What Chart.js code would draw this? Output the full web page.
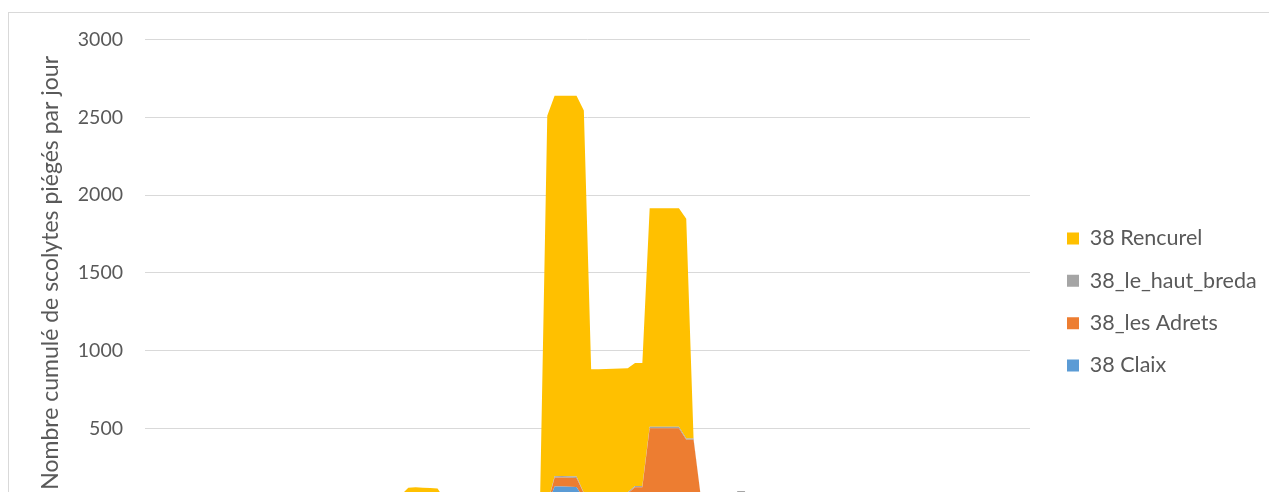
<!DOCTYPE html>
<html>
<head>
<meta charset="utf-8">
<script src="https://cdn.jsdelivr.net/npm/chart.js@4/dist/chart.umd.min.js"></script>
<style>
html,body{margin:0;padding:0;overflow:hidden;background:#fff;width:1269px;height:492px}
#frame{position:absolute;left:8px;top:12px;width:1280px;height:620px;border:1px solid #d9d9d9;box-sizing:border-box}
#wrap{position:absolute;left:8px;top:6px;width:1264px;height:570px}
canvas{display:block}
</style>
</head>
<body>
<div id="frame"></div>
<div id="wrap"><canvas id="c" width="1264" height="570"></canvas></div>
<script>
// Categories: daily dates (axis labels lie below the visible area)
const categories = [
 '01/04','02/04','03/04','04/04','05/04','06/04','07/04','08/04','09/04','10/04',
 '11/04','12/04','13/04','14/04','15/04','16/04','17/04','18/04','19/04','20/04',
 '21/04','22/04','23/04','24/04','25/04','26/04','27/04','28/04','29/04','30/04',
 '01/05','02/05','03/05','04/05','05/05','06/05','07/05','08/05','09/05','10/05',
 '11/05','12/05','13/05','14/05','15/05','16/05','17/05','18/05','19/05','20/05',
 '21/05','22/05','23/05','24/05','25/05','26/05','27/05','28/05','29/05','30/05',
 '31/05','01/06','02/06','03/06','04/06','05/06','06/06','07/06','08/06','09/06',
 '10/06','11/06','12/06','13/06','14/06','15/06','16/06','17/06','18/06','19/06',
 '20/06','21/06','22/06','23/06','24/06','25/06','26/06','27/06','28/06','29/06',
 '30/06','01/07','02/07','03/07','04/07','05/07','06/07','07/07','08/07','09/07',
 '10/07','11/07','12/07','13/07','14/07','15/07','16/07','17/07','18/07','19/07',
 '20/07','21/07','22/07','23/07','24/07','25/07','26/07','27/07','28/07','29/07',
 '30/07','31/07'
];

const claix = [
 0,0,0,0,0,0,0,0,0,0,
 0,0,0,0,0,0,0,0,0,0,
 0,0,0,0,0,0,0,0,0,0,
 0,0,0,0,0,0,0,0,0,0,
 0,0,0,0,0,0,0,0,0,0,
 0,0,0,0,0,5,125,126,124,123,
 45,10,5,5,5,5,5,5,5,3,
 3,3,3,3,3,3,2,0,0,0,
 0,0,0,0,0,0,0,0,0,0,
 0,0,0,0,0,0,0,0,0,0,
 0,0,0,0,0,0,0,0,0,0,
 0,0,0,0,0,0,0,0,0,0,
 0,0
];

const lesAdrets = [
 0,0,0,0,0,0,0,0,0,0,
 0,0,0,0,0,0,0,0,0,0,
 0,0,0,0,0,0,0,0,0,0,
 0,0,0,0,0,0,0,0,0,0,
 0,0,0,0,0,0,0,0,0,0,
 0,0,0,0,0,3,57,57,57,57,
 35,15,10,10,15,30,75,115,115,497,
 497,497,497,497,424,424,55,10,0,0,
 0,0,0,0,0,0,0,0,0,0,
 0,0,0,0,0,0,0,0,0,0,
 0,0,0,0,0,0,0,0,0,0,
 0,0,0,0,0,0,0,0,0,0,
 0,0
];

const hautBreda = [
 0,0,0,0,0,0,0,0,0,0,
 0,0,0,0,0,0,0,0,0,0,
 0,0,0,0,0,0,0,0,0,0,
 0,0,0,0,0,0,0,0,0,0,
 0,0,0,0,0,0,0,0,0,0,
 0,0,0,0,0,2,10,10,10,10,
 5,2,2,2,2,3,8,8,8,10,
 10,10,10,10,8,8,3,0,0,0,
 0,97,97,0,0,0,0,0,0,0,
 0,0,0,0,0,0,0,0,0,0,
 0,0,0,0,0,0,0,0,0,0,
 0,0,0,0,0,0,0,0,0,0,
 0,0
];

const rencurel = [
 0,0,0,0,0,0,0,0,0,0,
 0,0,0,0,0,0,0,0,0,0,
 0,0,0,0,0,0,0,0,0,0,
 0,0,0,0,0,70,118,120,118,116,
 112,40,0,0,0,0,0,0,0,0,
 0,0,0,0,0,2500,2448,2447,2449,2450,
 2460,853,863,864,861,847,799,792,792,1405,
 1405,1405,1405,1405,1413,0,0,0,0,0,
 0,0,0,0,0,0,0,0,0,0,
 0,0,0,0,0,0,0,0,0,0,
 0,0,0,0,0,0,0,0,0,0,
 0,0,0,0,0,0,0,0,0,0,
 0,0
];

const seriesNames = ['38 Claix', '38_les Adrets', '38_le_haut_breda', '38 Rencurel'];
const seriesColors = ['#5B9BD5', '#ED7D31', '#A5A5A5', '#FFC000'];
const yTicks = [0, 500, 1000, 1500, 2000, 2500, 3000];
const yTitle = 'Nombre cumulé de scolytes piégés par jour';

Chart.defaults.font.family = 'Lato, "Open Sans", sans-serif';
Chart.defaults.color = '#595959';

const values = [claix, lesAdrets, hautBreda, rencurel];
const datasets = values.map((v, i) => ({
  label: seriesNames[i],
  data: v,
  backgroundColor: seriesColors[i],
  borderColor: 'rgba(0,0,0,0)',
  borderWidth: 0,
  pointRadius: 0,
  pointHoverRadius: 0,
  tension: 0,
  fill: i === 0 ? 'origin' : '-1'
}));

new Chart(document.getElementById('c'), {
  type: 'line',
  data: { labels: categories, datasets },
  options: {
    responsive: false,
    animation: false,
    devicePixelRatio: 1,
    layout: { padding: { top: 22, left: 0, right: 13.8, bottom: 0 } },
    plugins: {
      tooltip: { enabled: false },
      legend: {
        position: 'right',
        reverse: true,
        maxWidth: 212,
        labels: {
          boxWidth: 12,
          boxHeight: 12,
          padding: 20.8,
          color: '#595959',
          font: { size: 21.5 }
        }
      }
    },
    scales: {
      x: {
        grid: { display: false },
        border: { display: false },
        ticks: { font: { size: 20 }, maxRotation: 90, minRotation: 90, color: '#595959' },
        afterFit: (s) => { s.height = 70; }
      },
      y: {
        stacked: true,
        min: 0,
        max: 3000,
        afterBuildTicks: (s) => { s.ticks = yTicks.map(v => ({ value: v })); },
        afterFit: (s) => { s.width = 137; },
        grid: { color: '#d9d9d9', lineWidth: 1, drawTicks: false },
        border: { display: false },
        ticks: { padding: 22, font: { size: 19.5 }, color: '#595959', callback: (v) => String(v) },
        title: {
          display: true,
          text: yTitle,
          color: '#595959',
          font: { size: 23 },
          padding: { top: 29, bottom: 14 }
        }
      },
      y2: {
        type: 'linear',
        position: 'right',
        display: true,
        grid: { display: false },
        border: { display: false },
        ticks: { display: false },
        afterFit: (s) => { s.width = 16.2; }
      }
    }
  }
});
</script>
</body>
</html>
